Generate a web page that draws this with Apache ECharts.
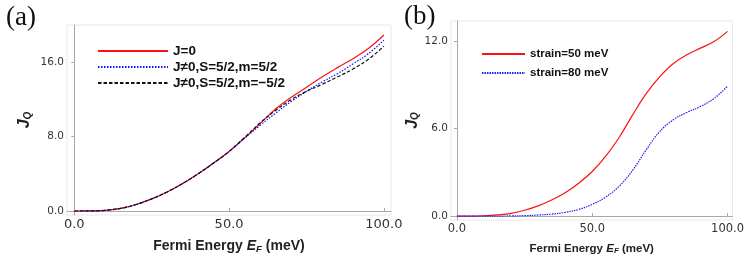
<!DOCTYPE html>
<html><head><meta charset="utf-8">
<script src="https://cdn.jsdelivr.net/npm/echarts@6/dist/echarts.min.js"></script>
<style>html,body{margin:0;padding:0;background:#fff}#c{width:747px;height:263px}</style>
</head><body><div id="c"></div>
<script>
// ---- data ----
const energyA = [0,5,10,15,20,25,30,35,40,45,50,55,60,65,70,75,80,85,90,95,100];
const jZero   = [0,0.01,0.07,0.28,0.7,1.3,2.05,2.95,4.0,5.15,6.4,7.85,9.4,10.95,12.2,13.3,14.4,15.4,16.35,17.45,18.9];
const jPlus   = [0,0.01,0.07,0.28,0.7,1.3,2.05,2.95,4.0,5.15,6.4,7.8,9.2,10.5,11.75,12.85,13.85,14.75,15.8,16.9,18.35];
const jMinus  = [0,0.01,0.07,0.28,0.7,1.3,2.05,2.95,4.0,5.15,6.4,7.9,9.45,10.8,11.95,12.85,13.6,14.4,15.25,16.3,17.7];
const namesA  = ['J=0','J\u22600,S=5/2,m=5/2','J\u22600,S=5/2,m=\u22125/2'];

const energyB = [0,5,10,15,20,25,30,35,40,45,50,55,60,65,70,75,80,85,90,95,100];
const strain50 = [0,0,0.02,0.08,0.18,0.4,0.7,1.1,1.6,2.25,3.05,4.1,5.4,6.95,8.4,9.55,10.45,11.05,11.5,11.95,12.65];
const strain80 = [0,0,0,0,0.01,0.03,0.07,0.13,0.25,0.45,0.8,1.3,2.05,3.15,4.55,5.8,6.6,7.1,7.5,8.05,8.9];
const namesB  = ['strain=50 meV','strain=80 meV'];

const ticksXA = [0,50,100], ticksYA = [0,8,16];
const ticksXB = [0,50,100], ticksYB = [0,6,12];

const pairs = (xs, ys) => xs.map((x,i)=>[x, ys[i]]);
const fmt = v => Number(v).toFixed(1);
const AX = '#a8a8a8';
const sans = 'Liberation Sans';

function xAxisFor(gi, min, max, ticks, fs, lfs, gap) {
  return {
    type:'value', gridIndex:gi, min, max,
    axisLine:{show:true, lineStyle:{color:AX, width:1}},
    axisTick:{show:true, inside:true, length:3, customValues:ticks, lineStyle:{color:AX}},
    axisLabel:{customValues:ticks, formatter:fmt, color:'#333', fontFamily:'DejaVu Sans', fontSize:lfs, margin:3},
    splitLine:{show:false},
    name:'{b|Fermi Energy }{i|E}{s|F}{b| (meV)}', nameLocation:'middle', nameGap:gap,
    nameTextStyle:{rich:{
      b:{fontFamily:sans, fontWeight:'bold', fontSize:fs, color:'#222'},
      i:{fontFamily:sans, fontWeight:'bold', fontStyle:'italic', fontSize:fs, color:'#222'},
      s:{fontFamily:sans, fontWeight:'bold', fontStyle:'italic', fontSize:fs*0.7, color:'#222', padding:[fs*0.45,0,0,0]}
    }}
  };
}
function yAxisFor(gi, min, max, ticks, lfs, gap) {
  return {
    type:'value', gridIndex:gi, min, max,
    axisLine:{show:true, lineStyle:{color:AX, width:1}},
    axisTick:{show:true, inside:false, length:3, customValues:ticks, lineStyle:{color:AX}},
    axisLabel:{customValues:ticks, formatter:fmt, color:'#333', fontFamily:'DejaVu Sans', fontSize:lfs, margin:3},
    splitLine:{show:false},
    name:'{j|J}{q|Q}', nameLocation:'middle', nameRotate:90, nameGap:gap,
    nameTextStyle:{rich:{
      j:{fontFamily:sans, fontWeight:'bold', fontStyle:'italic', fontSize:16, color:'#222'},
      q:{fontFamily:sans, fontWeight:'bold', fontStyle:'italic', fontSize:10, color:'#222', padding:[7,0,0,0]}
    }}
  };
}
function line(name, xi, xs, ys, color, type) {
  return {
    name, type:'line', xAxisIndex:xi, yAxisIndex:xi, data:pairs(xs, ys),
    symbol:'none', smooth:0.4,
    lineStyle:{color, width:1.2, type}, itemStyle:{color}
  };
}

const legendCommon = {orient:'vertical', itemHeight:14,
  itemStyle:{color:'transparent', borderWidth:0, opacity:0}};

const chart = echarts.init(document.getElementById('c'), null, {renderer:'canvas'});
chart.setOption({
  animation:false,
  backgroundColor:'#fff',
  title:[
    {text:'(a)', left:1, top:-1, textStyle:{fontFamily:'Liberation Serif', fontWeight:'normal', fontSize:27, color:'#111'}},
    {text:'(b)', left:399, top:-2, textStyle:{fontFamily:'Liberation Serif', fontWeight:'normal', fontSize:27, color:'#111'}}
  ],
  grid:[
    {left:67, top:25, width:324, height:190, show:true, borderColor:'#e8e8e8', borderWidth:1},
    {left:451, top:21, width:286, height:199, show:true, borderColor:'#e8e8e8', borderWidth:1}
  ],
  xAxis:[ xAxisFor(0, -2.36, 102.3, ticksXA, 14, 13, 23), xAxisFor(1, -2.18, 101.82, ticksXB, 11.5, 11.5, 22) ],
  yAxis:[ yAxisFor(0, -0.43, 19.98, ticksYA, 10.5, 34), yAxisFor(1, -0.27, 13.36, ticksYB, 10.5, 9) ],
  legend:[
    Object.assign({}, legendCommon, {data:namesA, left:92, top:39, itemWidth:70, itemGap:2,
     textStyle:{fontFamily:sans, fontWeight:'bold', fontSize:13.5, color:'#111'}}),
    Object.assign({}, legendCommon, {data:namesB, left:476, top:43, itemWidth:43, itemGap:7,
     textStyle:{fontFamily:sans, fontWeight:'bold', fontSize:11.5, color:'#111'}})
  ],
  series:[
    line(namesA[0], 0, energyA, jZero, '#ff1010', 'solid'),
    line(namesA[1], 0, energyA, jPlus, '#1010ff', [1.5,1.5]),
    line(namesA[2], 0, energyA, jMinus, '#111111', [3.5,2]),
    line(namesB[0], 1, energyB, strain50, '#ff1010', 'solid'),
    line(namesB[1], 1, energyB, strain80, '#2020ee', [1.5,1])
  ]
});
</script></body></html>
